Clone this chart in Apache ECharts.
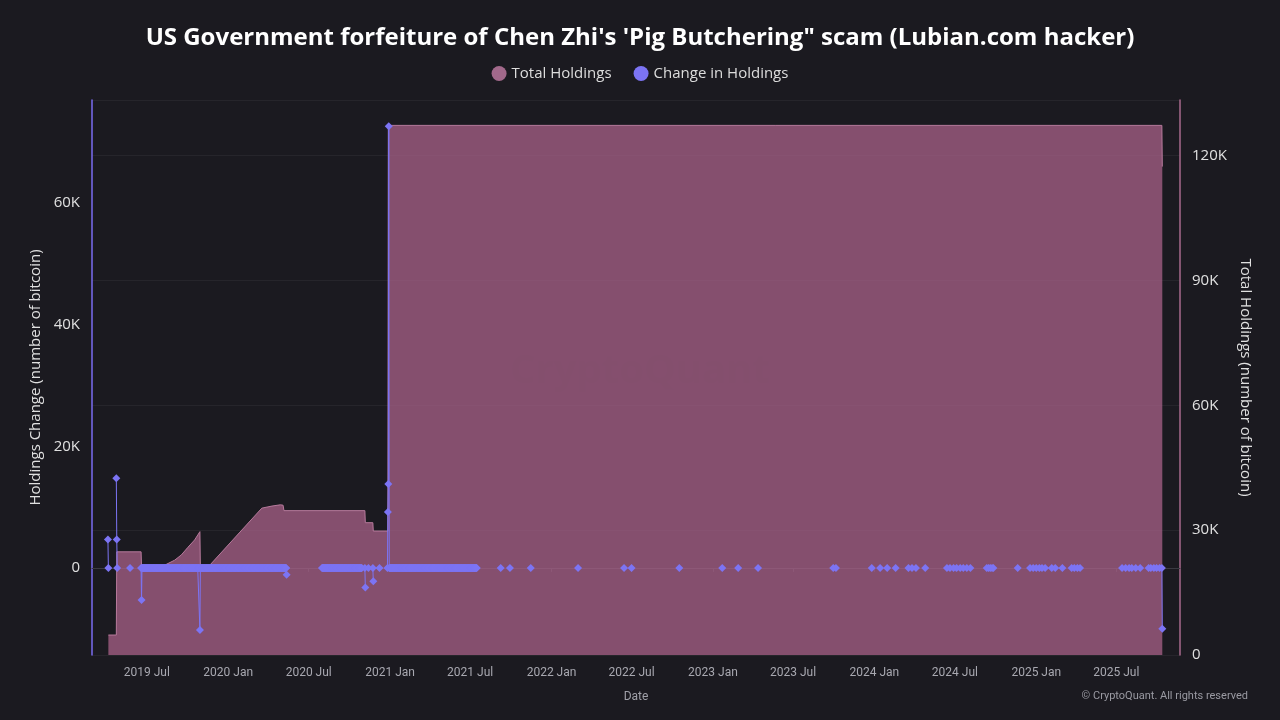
<!DOCTYPE html>
<html><head><meta charset="utf-8">
<script src="https://cdn.jsdelivr.net/npm/echarts@6/dist/echarts.min.js"></script>
<style>html,body{margin:0;padding:0;background:#1b1a20;}#c{width:1280px;height:720px;}</style>
</head><body><div id="c"></div>
<script>
// ---- Total Holdings (right axis, BTC) ----
const holdDates = ['2019-04-05','2019-04-23','2019-04-24','2019-06-18','2019-06-19','2019-08-03','2019-09-02','2019-09-17','2019-10-02','2019-10-17','2019-10-29','2019-10-30','2019-11-17','2020-03-17','2020-04-09','2020-04-28','2020-05-04','2020-05-06','2020-11-05','2020-11-06','2020-11-23','2020-11-24','2020-12-27','2020-12-28','2025-10-12','2025-10-13'];
const holdValues = [4800,4800,24800,24800,21200,21200,22800,24050,25900,27650,29650,21200,21200,35300,35800,36100,36000,34700,34700,31800,31800,29800,29800,127300,127300,117400];

// ---- Change in Holdings (left axis, BTC) : individual days ----
const changeDates = ['2019-04-04','2019-04-05','2019-04-23','2019-04-24','2019-04-25','2019-05-24','2019-06-18','2019-06-19','2019-10-29','2020-05-12','2020-11-05','2020-11-06','2020-11-13','2020-11-23','2020-11-24','2020-12-08','2020-12-26','2020-12-27','2020-12-28','2020-12-29',
 '2021-09-08','2021-09-29','2021-11-15','2022-03-02','2022-06-14','2022-07-01','2022-10-17','2023-01-22','2023-02-27','2023-04-13','2023-09-30','2023-10-06','2023-12-26','2024-01-14','2024-01-30','2024-02-18','2024-03-18','2024-03-26','2024-04-04','2024-04-25',
 '2024-06-13','2024-06-20','2024-06-28','2024-07-05','2024-07-13','2024-07-20','2024-07-28','2024-08-05','2024-09-11','2024-09-15','2024-09-19','2024-09-23','2024-09-26','2024-11-20','2024-12-18','2024-12-25','2025-01-01','2025-01-08','2025-01-14','2025-01-21','2025-02-05','2025-02-13','2025-03-01',
 '2025-03-22','2025-03-28','2025-04-04','2025-04-10','2025-07-14','2025-07-22','2025-07-30','2025-08-05','2025-08-14','2025-08-24','2025-09-12','2025-09-17','2025-09-24','2025-09-30','2025-10-07','2025-10-12','2025-10-13'];
const changeValues = [4700,0,14750,4700,0,0,0,-5250,-10200,-1100,0,-3200,0,0,-2200,0,0,9200,13800,72600,
 0,0,0,0,0,0,0,0,0,0,0,0,0,0,0,0,0,0,0,0,
 0,0,0,0,0,0,0,0,0,0,0,0,0,0,0,0,0,0,0,0,0,0,0,
 0,0,0,0,0,0,0,0,0,0,0,0,0,0,0,0,-10000];
// runs of consecutive days with (near) zero change
const zeroRunStarts = ['2019-06-20','2020-07-31','2020-12-30'];
const zeroRunEnds   = ['2020-05-11','2020-10-29','2021-07-16'];

// ---- axes ----
const leftTicks = [0,20000,40000,60000];
const rightTicks = [0,30000,60000,90000,120000];
const xMin = '2019-02-27', xMax = '2025-11-22';

const DAY = 86400000;
function ts(d){ return Date.parse(d + 'T00:00:00'); }
function buildChange(){
  const map = new Map();
  zeroRunStarts.forEach((s,i)=>{ for(let t=ts(s); t<=ts(zeroRunEnds[i]); t+=DAY) map.set(t,0); });
  changeDates.forEach((d,i)=> map.set(ts(d), changeValues[i]));
  const keys=[...map.keys()].sort((a,b)=>a-b);
  const out=[]; let prev=null;
  keys.forEach(k=>{ if(prev!==null && k-prev>1.5*DAY) out.push([prev+DAY,'-']); out.push([k,map.get(k)]); prev=k; });
  return out;
}
const holdData = holdDates.map((d,i)=>[ts(d), holdValues[i]]);
const changeData = buildChange();
const kfmt = v => v===0 ? '0' : (v/1000)+'K';

const chart = echarts.init(document.getElementById('c'), null, {renderer:'canvas'});
chart.setOption({
  backgroundColor:'#1b1a20',
  animation:false,
  textStyle:{fontFamily:'Open Sans'},
  title:{text:"US Government forfeiture of Chen Zhi's 'Pig Butchering\" scam (Lubian.com hacker)",left:'center',top:21,
    textStyle:{color:'#ffffff',fontSize:24,fontWeight:'bold',fontFamily:'Open Sans'}},
  legend:{top:61,left:'center',icon:'circle',itemWidth:15,itemHeight:15,itemGap:22,
    textStyle:{color:'#dddddd',fontSize:15,fontFamily:'Open Sans'},
    data:[{name:'Total Holdings',itemStyle:{color:'#a2698b'}},{name:'Change in Holdings',itemStyle:{color:'#7c74f4'}}]},
  grid:{left:92,right:100,top:100,bottom:65,containLabel:false},
  xAxis:{type:'time',min:ts(xMin),max:ts(xMax),name:'Date',nameLocation:'middle',nameGap:36,
    nameTextStyle:{color:'#a0a0a8',fontSize:12,fontFamily:'Roboto'},
    minInterval:180*DAY,maxInterval:184*DAY,
    axisLine:{show:true,lineStyle:{color:'#3a3a42'}},
    axisTick:{show:true,length:4,lineStyle:{color:'#3a3a42'}},
    splitLine:{show:false},
    axisLabel:{color:'#a8a8b0',fontSize:12,fontFamily:'Roboto',margin:12,showMinLabel:false,showMaxLabel:false,
      formatter:function(v){const d=new Date(v);const m=d.getMonth();if(d.getDate()!==1||(m!==0&&m!==6))return '';return d.getFullYear()+' '+(m===0?'Jan':'Jul');}}},
  yAxis:[
    {type:'value',position:'left',min:-14300,max:76900,name:'Holdings Change (number of bitcoin)',nameLocation:'middle',nameGap:43,nameRotate:90,
      nameTextStyle:{color:'#e0e0e0',fontSize:15,fontFamily:'Open Sans'},
      axisLine:{show:true,lineStyle:{color:'#7b6cf0',width:1.5}},axisTick:{show:false},splitLine:{show:false},
      axisLabel:{color:'#e0e0e0',fontSize:15,margin:12,showMinLabel:false,showMaxLabel:false,
        formatter:v=>leftTicks.includes(v)?kfmt(v):''}},
    {type:'value',position:'right',min:0,max:133400,interval:30000,name:'Total Holdings (number of bitcoin)',nameLocation:'middle',nameGap:50,nameRotate:-90,
      nameTextStyle:{color:'#e0e0e0',fontSize:15,fontFamily:'Open Sans'},
      axisLine:{show:true,lineStyle:{color:'#a86a8c',width:1.5}},axisTick:{show:false},
      splitLine:{show:true,lineStyle:{color:'rgba(255,255,255,0.05)'}},
      axisLabel:{color:'#e0e0e0',fontSize:15,margin:12,showMaxLabel:false,
        formatter:v=>rightTicks.includes(v)?kfmt(v):''}}
  ],
  graphic:[
    {type:'text',left:'center',top:352,z:1,style:{text:'CryptoQuant',fill:'rgba(0,0,0,0.06)',fontSize:40,fontWeight:'bold',fontFamily:'Open Sans'}},
    {type:'text',right:32,top:691,style:{text:'© CryptoQuant. All rights reserved',fill:'#9a9aa2',fontSize:11,fontFamily:'Roboto'}}
  ],
  series:[
    {name:'Total Holdings',type:'line',yAxisIndex:1,data:holdData,showSymbol:false,symbol:'none',z:1,
      lineStyle:{color:'#b77a9c',width:1},itemStyle:{color:'#a2698b'},
      areaStyle:{color:'rgb(170,98,138)',opacity:0.74}},
    {name:'Change in Holdings',type:'line',yAxisIndex:0,data:changeData,symbol:'diamond',symbolSize:8,showSymbol:true,z:3,
      connectNulls:false,lineStyle:{color:'#7c74f4',width:1},itemStyle:{color:'#7c74f4'}}
  ]
});
</script></body></html>
